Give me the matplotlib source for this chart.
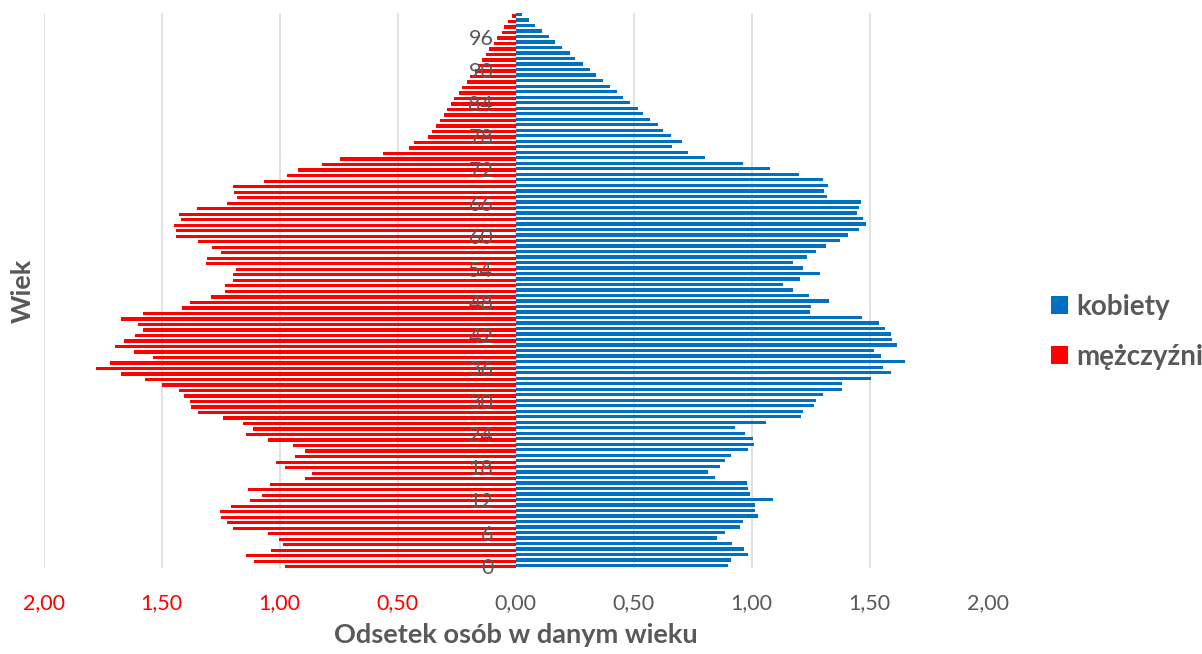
import matplotlib
matplotlib.use("Agg")
import matplotlib.pyplot as plt
from matplotlib.patches import Patch
import numpy as np

plt.rcParams['font.family'] = ['Lato', 'DejaVu Sans']

# wiek 0..100
wiek = list(range(0, 101))

# odsetek mezczyzn w danym wieku (wiek 0..100)
mezczyzni = [
    0.975, 1.107, 1.140, 1.034, 0.987, 1.001, 1.048, 1.199, 1.221, 1.246,
    1.253, 1.207, 1.126, 1.074, 1.133, 1.041, 0.894, 0.861, 0.975, 1.014,
    0.935, 0.894, 0.941, 1.048, 1.140, 1.113, 1.153, 1.239, 1.345, 1.373,
    1.379, 1.406, 1.424, 1.498, 1.571, 1.670, 1.777, 1.717, 1.537, 1.618,
    1.696, 1.658, 1.611, 1.577, 1.598, 1.670, 1.577, 1.412, 1.379, 1.291,
    1.232, 1.232, 1.199, 1.199, 1.185, 1.313, 1.306, 1.246, 1.284, 1.345,
    1.438, 1.438, 1.446, 1.419, 1.424, 1.351, 1.221, 1.180, 1.192, 1.199,
    1.066, 0.967, 0.922, 0.822, 0.743, 0.563, 0.450, 0.430, 0.371, 0.352,
    0.338, 0.318, 0.304, 0.291, 0.272, 0.259, 0.238, 0.225, 0.205, 0.191,
    0.170, 0.160, 0.144, 0.124, 0.112, 0.092, 0.078, 0.059, 0.047, 0.033,
    0.014,
]

# odsetek kobiet w danym wieku (wiek 0..100)
kobiety = [
    0.902, 0.913, 0.987, 0.968, 0.919, 0.852, 0.889, 0.950, 0.963, 1.029,
    1.016, 1.016, 1.090, 0.992, 0.987, 0.979, 0.847, 0.815, 0.865, 0.889,
    0.913, 0.987, 1.011, 1.005, 0.974, 0.931, 1.060, 1.211, 1.218, 1.265,
    1.272, 1.302, 1.383, 1.383, 1.505, 1.591, 1.559, 1.651, 1.547, 1.517,
    1.615, 1.596, 1.591, 1.567, 1.541, 1.469, 1.248, 1.254, 1.327, 1.243,
    1.175, 1.132, 1.207, 1.291, 1.218, 1.175, 1.236, 1.272, 1.315, 1.377,
    1.408, 1.456, 1.486, 1.473, 1.449, 1.456, 1.462, 1.322, 1.309, 1.323,
    1.303, 1.200, 1.077, 0.962, 0.805, 0.731, 0.664, 0.706, 0.657, 0.627,
    0.603, 0.572, 0.541, 0.517, 0.486, 0.456, 0.431, 0.401, 0.370, 0.339,
    0.315, 0.284, 0.254, 0.230, 0.199, 0.169, 0.144, 0.114, 0.083, 0.059,
    0.028,
]

x_ticks = [-2.0, -1.5, -1.0, -0.5, 0.0, 0.5, 1.0, 1.5, 2.0]
y_ticks = list(range(0, 97, 6))

NIEBIESKI = '#0070C0'
CZERWONY = '#FF0000'
SZARY = '#595959'
SIATKA = '#D9D9D9'

fig = plt.figure(figsize=(12.02, 6.54), dpi=100)
ax = fig.add_axes([43.5 / 1202, 86 / 654, 944 / 1202, 555 / 654])

# linie siatki pod slupkami
for xt in x_ticks:
    ax.axvline(xt, color=SIATKA, linewidth=1.1, zorder=0)

w = np.array(wiek)
ax.barh(w - 0.12, -np.array(mezczyzni), height=0.6, color=CZERWONY, zorder=1)
ax.barh(w + 0.12, kobiety, height=0.6, color=NIEBIESKI, zorder=1)

ax.set_xlim(-2, 2)
ax.set_ylim(-0.33, 100.4)

for s in ax.spines.values():
    s.set_visible(False)
ax.spines['left'].set_position(('data', 0))

ax.set_xticks(x_ticks)
ax.set_xticklabels([f"{abs(v):.2f}".replace('.', ',') for v in x_ticks])
for lab, v in zip(ax.get_xticklabels(), x_ticks):
    lab.set_color(CZERWONY if v < 0 else SZARY)
ax.tick_params(axis='x', length=0, pad=18, labelsize=15.5)

ax.set_yticks(y_ticks)
ax.set_yticklabels([str(v) for v in y_ticks])
ax.tick_params(axis='y', length=0, pad=16, labelsize=15.5, labelcolor=SZARY)

ax.set_xlabel('Odsetek osób w danym wieku', fontsize=19.5, fontweight='bold',
              color=SZARY, labelpad=7)
fig.text(23 / 1202, 1 - 291 / 654, 'Wiek', rotation=90, ha='center', va='center',
         fontsize=19.5, fontweight='bold', color=SZARY)

uchwyty = [Patch(facecolor=NIEBIESKI, label='kobiety'),
           Patch(facecolor=CZERWONY, label='mężczyźni')]
leg = ax.legend(handles=uchwyty, loc='center left', bbox_to_anchor=(1051 / 1202, 1 - 332 / 654),
                bbox_transform=fig.transFigure, frameon=False, fontsize=20,
                handlelength=0.62, handleheight=0.62, handletextpad=0.3,
                labelspacing=0.87, borderpad=0, borderaxespad=0)
for t in leg.get_texts():
    t.set_color(SZARY)
    t.set_fontweight('bold')

fig.savefig('out.png', dpi=100)
